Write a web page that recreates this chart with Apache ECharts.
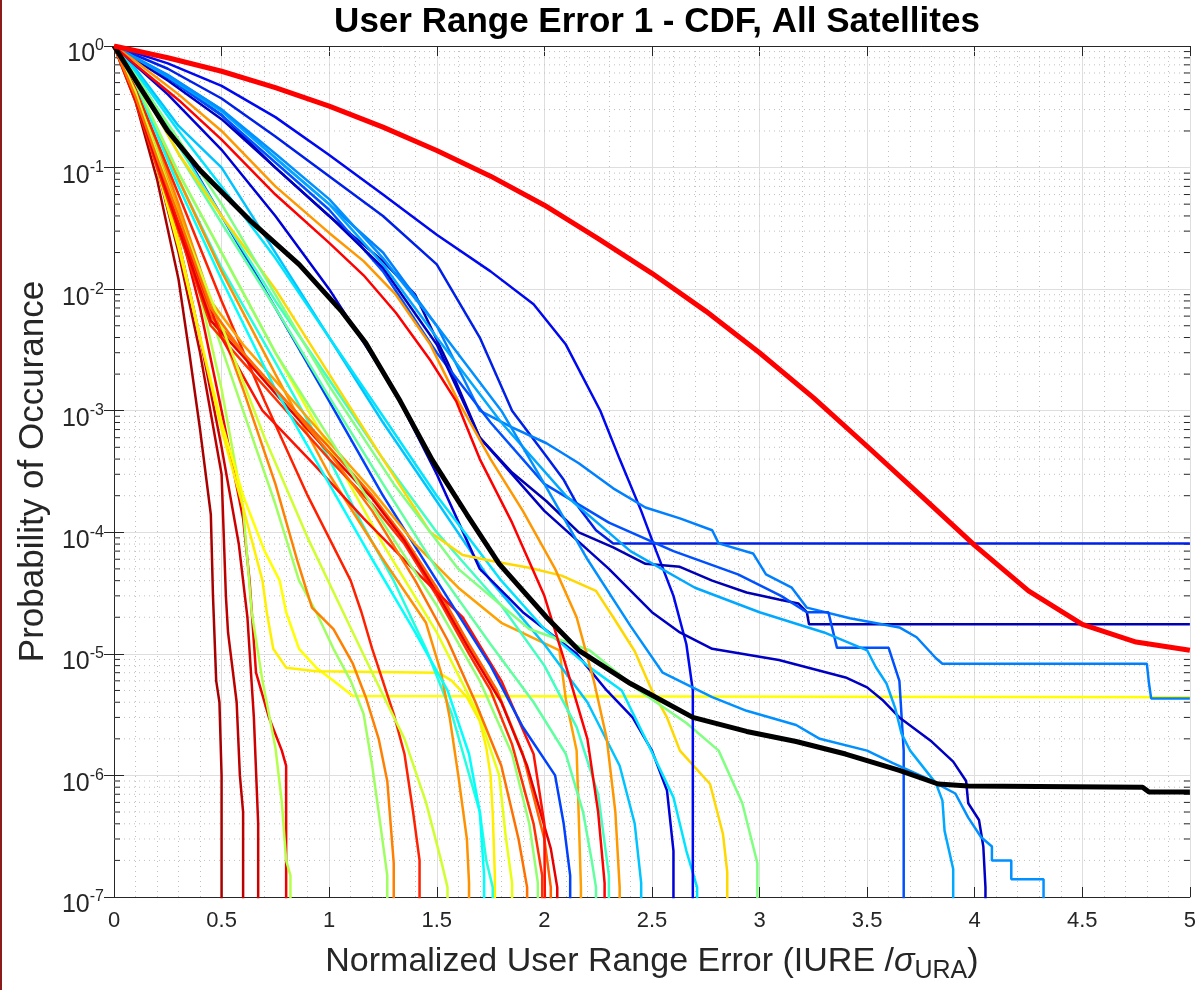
<!DOCTYPE html>
<html>
<head>
<meta charset="utf-8">
<title>User Range Error 1 - CDF, All Satellites</title>
<script src="https://cdn.jsdelivr.net/npm/echarts@6/dist/echarts.min.js"></script>
<style>
  html, body { margin: 0; padding: 0; background: #fff; }
  #chart { width: 1199px; height: 990px; }
</style>
</head>
<body>
<div id="chart"></div>
<script>
// probability used for "no more samples": the curve drops off the bottom of the plot
const BELOW = 1e-9

const xTicks = [0, 0.5, 1, 1.5, 2, 2.5, 3, 3.5, 4, 4.5, 5]
// decades of the log axis and the minor grid factors inside each decade
const decades = [-7, -6, -5, -4, -3, -2, -1]
const minorFactors = [2, 3, 4, 5, 6, 7, 8, 9]

// per-satellite CDF tails, [normalized error, probability]
const sat01 = [[0,1],[0.1,0.35],[0.2,0.08],[0.3,0.012],[0.35,3e-3],[0.4,7e-4],[0.45,1.4e-4],[0.46,3e-5],[0.475,6e-6],[0.49,4e-6],[0.5,1e-6],[0.5,BELOW]]
const sat02 = [[0,1],[0.1,0.4],[0.2,0.1],[0.3,0.02],[0.4,3e-3],[0.5,3e-4],[0.52,3e-5],[0.53,1.5e-5],[0.57,4e-6],[0.585,1e-6],[0.6,5e-7],[0.6,BELOW]]
const sat03 = [[0,1],[0.1,0.42],[0.2,0.12],[0.3,0.025],[0.4,4e-3],[0.5,5e-4],[0.58,8e-5],[0.62,2e-5],[0.65,3e-6],[0.67,4e-7],[0.67,BELOW]]
const sat04 = [[0,1],[0.1,0.45],[0.2,0.14],[0.3,0.035],[0.4,7e-3],[0.5,1e-3],[0.6,1.3e-4],[0.63,4e-5],[0.66,7e-6],[0.72,3e-6],[0.78,1.6e-6],[0.8,1.2e-6],[0.8,BELOW]]
const sat05 = [[0,1],[0.1,0.45],[0.2,0.15],[0.3,0.04],[0.4,9e-3],[0.5,1.5e-3],[0.6,1.6e-4],[0.64,2.2e-5],[0.69,6e-6],[0.72,3.2e-6],[0.75,1.7e-6],[0.78,6e-7],[0.8,2e-7],[0.82,1.5e-7],[0.82,BELOW]]
const sat06 = [[0,1],[0.1,0.4],[0.2,0.1],[0.3,0.022],[0.4,4e-3],[0.5,8e-4],[0.6,2e-4],[0.7,7e-5],[0.77,4e-5],[0.8,2.2e-5],[0.86,1.1e-5],[0.94,7.7e-6],[1.02,6e-6],[1.11,4.5e-6],[5,4.4e-6]]
const sat07 = [[0,1],[0.1,0.4],[0.2,0.11],[0.3,0.025],[0.4,4e-3],[0.5,7e-4],[0.6,1.6e-4],[0.69,4e-5],[0.71,2.2e-5],[0.74,1.1e-5],[0.8,7.7e-6],[0.94,7.2e-6],[1.51,7e-6],[1.57,6e-6],[1.64,4.4e-6],[1.7,2.8e-6],[1.73,1.7e-6],[1.75,1e-6],[1.76,4.9e-7],[1.77,1.5e-7],[1.77,BELOW]]
const sat08 = [[0,1],[0.1,0.45],[0.2,0.15],[0.3,0.04],[0.45,6e-3],[0.6,1e-3],[0.75,1.7e-4],[0.86,4e-5],[0.94,2.2e-5],[1.02,1.1e-5],[1.1,6e-6],[1.16,3.2e-6],[1.2,1.2e-6],[1.23,5e-7],[1.27,1.5e-7],[1.27,BELOW]]
const sat09 = [[0,1],[0.1,0.45],[0.2,0.16],[0.3,0.05],[0.45,8e-3],[0.6,1.5e-3],[0.75,2.5e-4],[0.85,6e-5],[0.92,2.4e-5],[1.02,1.6e-5],[1.11,8.3e-6],[1.17,4.4e-6],[1.23,2e-6],[1.27,9e-7],[1.3,1.9e-7],[1.3,BELOW]]
const sat10 = [[0,1],[0.1,0.45],[0.3,0.06],[0.5,8e-3],[0.7,1.2e-3],[0.9,2e-4],[1.1,4e-5],[1.15,2.2e-5],[1.2,1.1e-5],[1.3,3.2e-6],[1.35,1.5e-6],[1.39,5e-7],[1.42,2e-7],[1.42,BELOW]]
const sat11 = [[0,1],[0.1,0.5],[0.3,0.08],[0.5,0.015],[0.75,2.5e-3],[1,4e-4],[1.15,1.2e-4],[1.3,4e-5],[1.45,1.1e-5],[1.57,3.2e-6],[1.7,5e-7],[1.73,2e-7],[1.76,1.2e-7],[1.76,BELOW]]
const sat12 = [[0,1],[0.1,0.5],[0.3,0.08],[0.5,0.014],[0.75,2e-3],[1,3e-4],[1.25,6e-5],[1.45,1.8e-5],[1.52,7e-6],[1.56,3e-6],[1.6,1e-6],[1.64,3e-7],[1.65,1.3e-7],[1.65,BELOW]]
const sat13 = [[0,1],[0.1,0.5],[0.3,0.09],[0.5,0.02],[0.75,3e-3],[1,5e-4],[1.25,8e-5],[1.5,1.5e-5],[1.7,3e-6],[1.79,1e-6],[1.82,3.2e-7],[1.85,1.3e-7],[1.85,BELOW]]
const sat14 = [[0,1],[0.1,0.35],[0.2,0.1],[0.3,0.03],[0.45,5e-3],[0.6,2.5e-3],[0.8,1e-3],[1,4e-4],[1.2,1.7e-4],[1.35,8e-5],[1.5,3e-5],[1.65,1e-5],[1.75,5e-6],[1.85,1.8e-6],[1.95,4e-7],[1.99,1.5e-7],[1.99,BELOW]]
const sat15 = [[0,1],[0.1,0.38],[0.2,0.12],[0.3,0.035],[0.45,6e-3],[0.6,3e-3],[0.8,1.2e-3],[1,5e-4],[1.2,2e-4],[1.35,9e-5],[1.5,3.5e-5],[1.65,1.2e-5],[1.78,5e-6],[1.9,1.5e-6],[2,3e-7],[2.03,1.2e-7],[2.03,BELOW]]
const sat16 = [[0,1],[0.1,0.36],[0.2,0.11],[0.3,0.032],[0.45,5.5e-3],[0.6,2.8e-3],[0.8,1.1e-3],[1,4.5e-4],[1.2,1.9e-4],[1.35,8.5e-5],[1.5,3.2e-5],[1.65,1.1e-5],[1.8,4e-6],[1.92,1.2e-6],[2.03,2.5e-7],[2.06,1.2e-7],[2.06,BELOW]]
const sat17 = [[0,1],[0.1,0.4],[0.2,0.12],[0.3,0.035],[0.5,4e-3],[0.69,1e-3],[0.93,3.6e-4],[1.16,1.3e-4],[1.39,5e-5],[1.62,2e-5],[1.8,6e-6],[1.95,1.5e-6],[2,4e-7],[2.01,BELOW]]
const sat18 = [[0,1],[0.1,0.58],[0.3,0.16],[0.5,0.04],[0.75,7e-3],[1,1.2e-3],[1.25,2e-4],[1.5,4e-5],[1.75,8e-6],[1.9,2.5e-6],[2.05,1e-6],[2.09,4e-7],[2.12,1.5e-7],[2.12,BELOW]]
const sat19 = [[0,1],[0.1,0.4],[0.2,0.13],[0.3,0.045],[0.45,8e-3],[0.6,3.5e-3],[0.8,1.4e-3],[1,5.5e-4],[1.2,2.2e-4],[1.4,8e-5],[1.6,3.5e-5],[1.8,1.8e-5],[2.07,1.07e-5],[2.1,4.2e-6],[2.15,1.6e-6],[2.16,4.5e-7],[2.17,1.2e-7],[2.17,BELOW]]
const sat20 = [[0,1],[0.1,0.55],[0.3,0.13],[0.5,0.035],[0.75,7e-3],[1,1.3e-3],[1.25,2.5e-4],[1.5,5e-5],[1.75,1.2e-5],[1.95,4e-6],[2.1,1.5e-6],[2.18,5e-7],[2.22,2e-7],[2.24,1.2e-7],[2.24,BELOW]]
const sat21 = [[0,1],[0.1,0.6],[0.3,0.15],[0.5,0.04],[0.75,8e-3],[1,1.8e-3],[1.25,4e-4],[1.5,1e-4],[1.8,2.5e-5],[2,8e-6],[2.15,2.5e-6],[2.25,7e-7],[2.3,1.5e-7],[2.3,BELOW]]
const sat22 = [[0,1],[0.1,0.65],[0.3,0.22],[0.5,0.1],[0.75,0.02],[1,4e-3],[1.25,8e-4],[1.5,1.8e-4],[1.75,4e-5],[2,1.2e-5],[2.2,4e-6],[2.35,1.2e-6],[2.42,4e-7],[2.45,1.3e-7],[2.45,BELOW]]
const sat23 = [[0,1],[0.25,0.4],[0.5,0.14],[0.75,0.04],[1,0.01],[1.3,1.5e-3],[1.5,3e-4],[1.7,5e-5],[1.9,2.2e-5],[2.15,1e-5],[2.29,5e-6],[2.41,3e-6],[2.5,1.6e-6],[2.57,7.5e-7],[2.6,2.4e-7],[2.6,BELOW]]
const sat24 = [[0,1],[0.1,0.62],[0.3,0.2],[0.5,0.07],[0.75,0.018],[1,4e-3],[1.25,9e-4],[1.5,2e-4],[1.8,4e-5],[2,1.6e-5],[2.2,8e-6],[2.36,5e-6],[2.47,2e-6],[2.6,6.6e-7],[2.66,2.4e-7],[2.71,1.2e-7],[2.71,BELOW]]
const sat25 = [[0,1],[0.1,0.55],[0.3,0.13],[0.5,0.04],[0.75,0.01],[1,2e-3],[1.25,4e-4],[1.47,1e-4],[1.62,6.5e-5],[1.78,5.7e-5],[1.93,5.1e-5],[2.08,4.4e-5],[2.24,3.3e-5],[2.32,2e-5],[2.42,1.05e-5],[2.5,5e-6],[2.57,3e-6],[2.63,1.6e-6],[2.77,8.5e-7],[2.83,3.3e-7],[2.85,1.6e-7],[2.85,BELOW]]
const sat26 = [[0,1],[0.1,0.57],[0.3,0.17],[0.5,0.05],[0.75,9e-3],[1,1.6e-3],[1.3,2.5e-4],[1.6,5e-5],[1.93,1.6e-5],[2.21,1.07e-5],[2.44,5e-6],[2.66,2.7e-6],[2.81,1.6e-6],[2.92,5.9e-7],[2.99,1.9e-7],[2.99,BELOW]]
const sat27 = [[0,1],[0.25,0.72],[0.5,0.47],[0.75,0.26],[1,0.127],[1.25,0.06],[1.5,0.028],[1.75,0.014],[1.95,7.5e-3],[2.1,3.5e-3],[2.26,1e-3],[2.35,4e-4],[2.45,1.5e-4],[2.52,7e-5],[2.6,3e-5],[2.66,1.2e-5],[2.69,5e-6],[2.69,BELOW]]
const sat28 = [[0,1],[0.25,0.65],[0.5,0.37],[0.75,0.18],[1,0.085],[1.25,0.04],[1.5,0.016],[1.7,4e-3],[1.85,1e-3],[2.01,4.2e-4],[2.09,2.7e-4],[2.16,1.6e-4],[2.24,1.04e-4],[2.32,8.1e-5],[5,8.1e-5]]
const sat29 = [[0,1],[0.25,0.55],[0.5,0.27],[0.75,0.1],[1,0.04],[1.25,0.017],[1.4,9e-3],[1.55,2.5e-3],[1.7,6e-4],[1.85,3.1e-4],[2.01,1.8e-4],[2.16,1e-4],[2.32,7.5e-5],[2.47,5.5e-5],[2.63,5.2e-5],[2.78,4e-5],[2.94,3.2e-5],[3.09,2.8e-5],[3.18,2.6e-5],[3.22,2.2e-5],[3.23,1.75e-5],[5,1.75e-5]]
const sat30 = [[0,1],[0.25,0.58],[0.5,0.3],[0.75,0.12],[1,0.05],[1.25,0.02],[1.5,5e-3],[1.7,1e-3],[1.85,7.3e-4],[2.01,5.4e-4],[2.16,3.7e-4],[2.32,2.3e-4],[2.47,1.6e-4],[2.63,1.3e-4],[2.78,1.04e-4],[2.81,8.1e-5],[2.97,6.7e-5],[3.03,4.5e-5],[3.15,3.5e-5],[3.22,2.4e-5],[3.42,1.96e-5],[3.65,1.65e-5],[3.73,1.37e-5],[3.82,9.2e-6],[3.85,8.3e-6],[4.8,8.3e-6],[4.81,5.7e-6],[4.82,4.3e-6],[5,4.3e-6]]
const sat31 = [[0,1],[0.25,0.55],[0.5,0.27],[0.75,0.11],[1,0.045],[1.25,0.014],[1.5,3e-3],[1.75,8e-4],[2,2.5e-4],[2.3,1.2e-4],[2.6,7e-5],[2.9,4.5e-5],[3.1,3e-5],[3.22,2.2e-5],[3.32,2.2e-5],[3.36,1.12e-5],[3.6,1.12e-5],[3.65,6e-6],[3.67,1.6e-6],[3.67,BELOW]]
const sat32 = [[0,1],[0.25,0.52],[0.5,0.25],[0.75,0.1],[1,0.04],[1.25,0.015],[1.5,3.5e-3],[1.7,6e-4],[2,1.5e-4],[2.3,5e-5],[2.5,2.2e-5],[2.63,1.5e-5],[2.78,1.1e-5],[3.09,8.9e-6],[3.4,6.4e-6],[3.5,5.3e-6],[3.57,4.2e-6],[3.65,3e-6],[3.8,1.9e-6],[3.9,1.3e-6],[3.96,9e-7],[3.97,5.9e-7],[4.02,4.3e-7],[4.04,2.6e-7],[4.05,1.2e-7],[4.05,BELOW]]
const sat33 = [[0,1],[0.25,0.56],[0.5,0.29],[0.75,0.12],[1,0.05],[1.25,0.016],[1.5,4e-3],[1.8,8e-4],[2.1,2e-4],[2.4,7e-5],[2.7,3.5e-5],[3,2.2e-5],[3.3,1.5e-5],[3.5,1.07e-5],[3.54,7.8e-6],[3.59,5.7e-6],[3.63,3.6e-6],[3.66,2.2e-6],[3.7,1.6e-6],[3.82,8.6e-7],[3.85,6.2e-7],[3.86,3.5e-7],[3.9,1.7e-7],[3.9,BELOW]]
const sat34 = [[0,1],[0.25,0.57],[0.5,0.3],[0.75,0.13],[1,0.055],[1.25,0.018],[1.5,5e-3],[1.8,1e-3],[2,2.5e-4],[2.2,6e-5],[2.4,1.7e-5],[2.55,7e-6],[2.78,4.4e-6],[2.94,3.4e-6],[3.17,2.6e-6],[3.28,2e-6],[3.5,1.6e-6],[3.62,1.26e-6],[3.77,9.6e-7],[3.91,7.1e-7],[3.97,4.5e-7],[4.03,3.1e-7],[4.08,2.6e-7],[4.08,2e-7],[4.17,2e-7],[4.17,1.4e-7],[4.32,1.4e-7],[4.32,BELOW]]
const sat35 = [[0,1],[0.1,0.75],[0.3,0.4],[0.5,0.2],[0.75,0.07],[1,0.029],[1.16,0.017],[1.31,9e-3],[1.47,3.5e-3],[1.6,1.2e-3],[1.75,4e-4],[1.9,1.5e-4],[2.05,5e-5],[2.15,2e-5],[2.23,6e-6],[2.29,2e-6],[2.33,5e-7],[2.35,1.2e-7],[2.35,BELOW]]
const sat36 = [[0,1],[0.1,0.7],[0.3,0.36],[0.5,0.17],[0.75,0.06],[1,0.024],[1.16,0.013],[1.31,6.4e-3],[1.47,2.6e-3],[1.59,1.2e-3],[1.7,4e-4],[1.85,1.2e-4],[2,3e-5],[2.1,8e-6],[2.2,2e-6],[2.25,5e-7],[2.28,1.3e-7],[2.28,BELOW]]
const sat37 = [[0,1],[0.1,0.5],[0.3,0.07],[0.5,0.012],[0.75,1.5e-3],[1,2.5e-4],[1.2,6e-5],[1.4,1.5e-5],[1.55,5e-6],[1.65,1.5e-6],[1.7,5e-7],[1.72,1.5e-7],[1.72,BELOW]]
const sat38 = [[0,1],[0.1,0.5],[0.3,0.09],[0.5,0.02],[0.75,3e-3],[1,6e-4],[1.25,1.2e-4],[1.5,2.5e-5],[1.7,6e-6],[1.85,1.5e-6],[1.93,4e-7],[1.97,1.3e-7],[1.97,BELOW]]
const sat39 = [[0,1],[0.1,0.42],[0.3,0.04],[0.5,5e-3],[0.7,6e-4],[0.9,9e-5],[1.05,2.5e-5],[1.2,7e-6],[1.35,2e-6],[1.45,6e-7],[1.52,2e-7],[1.55,1.2e-7],[1.55,BELOW]]
const sat40 = [[0,1],[0.1,0.38],[0.2,0.12],[0.3,0.04],[0.45,7e-3],[0.6,3e-3],[0.8,1.2e-3],[1,4.5e-4],[1.2,1.5e-4],[1.4,4e-5],[1.55,1.3e-5],[1.68,4e-6],[1.8,1.2e-6],[1.88,3e-7],[1.92,1.2e-7],[1.92,BELOW]]

// all satellites combined (black) and the bounding curve (thick red)
const allSats = [[0,1],[0.12,0.46],[0.25,0.2],[0.4,0.095],[0.63,0.037],[0.86,0.016],[1.06,0.0065],[1.17,0.0036],[1.33,1.2e-3],[1.48,3.9e-4],[1.64,1.4e-4],[1.79,5.5e-5],[2.01,2e-5],[2.16,1.07e-5],[2.4,5.7e-6],[2.69,3e-6],[2.94,2.3e-6],[3.17,1.9e-6],[3.4,1.5e-6],[3.65,1.1e-6],[3.83,8.5e-7],[3.97,8.2e-7],[4.78,8e-7],[4.81,7.3e-7],[5,7.3e-7]]
const bound = [[0,1],[0.25,0.8],[0.5,0.62],[0.75,0.455],[1,0.32],[1.25,0.215],[1.5,0.138],[1.75,0.085],[2,0.049],[2.25,0.026],[2.5,0.0135],[2.75,0.0066],[3,0.003],[3.25,1.28e-3],[3.5,5.1e-4],[3.75,2e-4],[4,7.8e-5],[4.25,3.3e-5],[4.5,1.75e-5],[4.75,1.25e-5],[5,1.07e-5]]

const satCurves = [sat01, sat02, sat03, sat04, sat05, sat06, sat07, sat08, sat09, sat10,
  sat11, sat12, sat13, sat14, sat15, sat16, sat17, sat18, sat19, sat20,
  sat21, sat22, sat23, sat24, sat25, sat26, sat27, sat28, sat29, sat30,
  sat31, sat32, sat33, sat34, sat35, sat36, sat37, sat38, sat39, sat40]

// jet colormap picks, one per curve above
const satColors = ['#a80000', '#bc0000', '#cc0000', '#f00000', '#b4ff48', '#ffff00', '#fff000', '#a0ff60', '#ff8000', '#ff2000',
  '#20ffe0', '#ff9000', '#e8ff10', '#ff3000', '#ff6000', '#e80000', '#ff1000', '#0040ff', '#ffa000', '#60ffa0',
  '#40ffc0', '#00c4ff', '#0000d8', '#00e4ff', '#ffd800', '#80ff80', '#0008f0', '#0020e8', '#0000b4', '#0080ff',
  '#0050ff', '#0000c4', '#00a8ff', '#0090ff', '#ff9800', '#ff0000', '#00ffff', '#90ff70', '#d0ff30', '#ff7000']

const fontFamily = '"Liberation Sans", Arial, Helvetica, sans-serif'
const axisColor = '#262626'

let minorValues = []
decades.forEach(function (e) {
  minorFactors.forEach(function (f) { minorValues.push(f * Math.pow(10, e)) })
})

var myChart = echarts.init(document.getElementById('chart'), null, { renderer: 'canvas' })

// minor log grid (dotted) plus the small inside ticks on both y axes
let series = [{
  type: 'custom',
  silent: true,
  z: 1,
  data: minorValues.map(function (v) { return [0, v] }),
  renderItem: function (params, api) {
    var v = api.value(1)
    var pl = api.coord([0, v])
    var pr = api.coord([5, v])
    return {
      type: 'group',
      children: [
        { type: 'line', shape: { x1: pl[0], y1: pl[1], x2: pr[0], y2: pr[1] }, style: { stroke: '#c0c0c0', lineWidth: 1, lineDash: [1, 4] } },
        { type: 'line', shape: { x1: pl[0], y1: pl[1], x2: pl[0] + 6, y2: pl[1] }, style: { stroke: axisColor, lineWidth: 1 } },
        { type: 'line', shape: { x1: pr[0], y1: pr[1], x2: pr[0] - 6, y2: pr[1] }, style: { stroke: axisColor, lineWidth: 1 } }
      ]
    }
  }
}]

satCurves.forEach(function (d, i) {
  series.push({
    type: 'line',
    data: d,
    symbol: 'none',
    silent: true,
    clip: true,
    lineStyle: { color: satColors[i], width: 2.5 },
    z: 2
  })
})
series.push({
  type: 'line', data: allSats, symbol: 'none', silent: true, clip: true,
  lineStyle: { color: '#000000', width: 5 }, z: 3
})
series.push({
  type: 'line', data: bound, symbol: 'none', silent: true, clip: true,
  lineStyle: { color: '#ff0000', width: 5 }, z: 4
})

function powLabel (value) {
  var e = Math.round(Math.log10(value))
  return '{b|10}{e|' + e + '}'
}

let yAxisBase = {
  type: 'log',
  logBase: 10,
  min: 1e-7,
  max: 1,
  interval: 1,
  axisLine: { show: true, lineStyle: { color: axisColor, width: 1 } },
  axisTick: { show: true, inside: true, length: 10, lineStyle: { color: axisColor } },
  minorTick: { show: false },
  minorSplitLine: { show: false }
}

let xAxisBase = {
  type: 'value',
  min: 0,
  max: 5,
  interval: 0.5,
  axisLine: { show: true, onZero: false, lineStyle: { color: axisColor, width: 1 } },
  axisTick: { show: true, inside: true, length: 10, lineStyle: { color: axisColor } },
  minorTick: { show: false }
}

let option = {
  animation: false,
  backgroundColor: '#ffffff',
  textStyle: { fontFamily: fontFamily },
  title: {
    text: 'User Range Error 1 - CDF, All Satellites',
    left: 652,
    top: 0,
    textAlign: 'center',
    textStyle: { fontSize: 35, fontWeight: 'bold', color: '#000000', fontFamily: fontFamily }
  },
  graphic: [{
    type: 'rect',
    left: 0,
    top: 0,
    shape: { width: 2, height: 990 },
    style: { fill: '#8b1a1a' }
  }],
  grid: { left: 114, right: 8, top: 46, bottom: 93 },
  xAxis: [
    Object.assign({}, xAxisBase, {
      position: 'bottom',
      name: '{n|Normalized User Range Error (IURE /}{g|σ}{s|URA}{n|)}',
      nameLocation: 'middle',
      nameGap: 43,
      nameTextStyle: {
        rich: {
          n: { fontSize: 34, color: axisColor, lineHeight: 44, fontFamily: fontFamily },
          g: { fontSize: 34, color: axisColor, lineHeight: 44, fontStyle: 'italic', fontFamily: fontFamily },
          s: { fontSize: 25, color: axisColor, lineHeight: 26, verticalAlign: 'bottom', fontFamily: fontFamily }
        }
      },
      axisLabel: { show: true, fontSize: 22, color: axisColor, margin: 13, fontFamily: fontFamily },
      splitLine: { show: true, lineStyle: { color: '#dedede', width: 1 } },
      minorTick: { show: true, splitNumber: 5, length: 0, lineStyle: { opacity: 0 } },
      minorSplitLine: { show: true, lineStyle: { color: '#c0c0c0', width: 1, type: [1, 4] } }
    }),
    Object.assign({}, xAxisBase, {
      position: 'top',
      axisLabel: { show: false },
      splitLine: { show: false }
    })
  ],
  yAxis: [
    Object.assign({}, yAxisBase, {
      position: 'left',
      name: 'Probability of Occurance',
      nameLocation: 'middle',
      nameGap: 62,
      nameTextStyle: { fontSize: 35, color: axisColor, fontFamily: fontFamily },
      axisLabel: {
        show: true,
        margin: 10,
        formatter: powLabel,
        rich: {
          b: { fontSize: 25, color: axisColor, lineHeight: 26, verticalAlign: 'bottom', fontFamily: fontFamily },
          e: { fontSize: 16, color: axisColor, lineHeight: 42, verticalAlign: 'middle', fontFamily: fontFamily }
        }
      },
      splitLine: { show: true, lineStyle: { color: '#dedede', width: 1 } }
    }),
    Object.assign({}, yAxisBase, {
      position: 'right',
      axisLabel: { show: false },
      splitLine: { show: false }
    })
  ],
  series: series
}

myChart.setOption(option, true)
</script>
</body>
</html>
